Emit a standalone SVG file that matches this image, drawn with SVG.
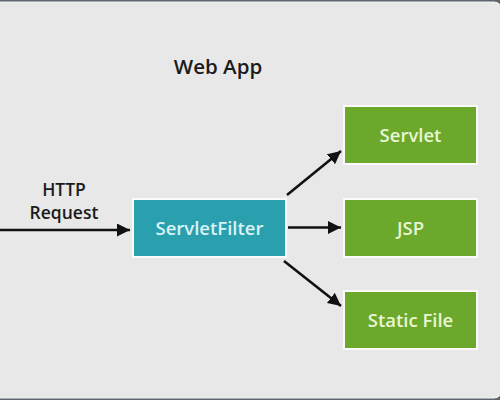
<svg xmlns="http://www.w3.org/2000/svg" width="500" height="400" viewBox="0 0 500 400">
  <style>
    .lbl { font-family: "Open Sans", "Noto Sans", "Liberation Sans", sans-serif; fill: #1b1b1b; text-anchor: middle; font-weight: 600; }
    .box-text { font-family: "Open Sans", "Noto Sans", "Liberation Sans", sans-serif; font-size: 18.5px; font-weight: 600; text-anchor: middle; }
    .green { fill: #6ba82c; stroke: #fafafa; stroke-width: 2; }
    .teal { fill: #2a9fae; stroke: #fafafa; stroke-width: 2; }
    .conn { stroke: #111111; stroke-width: 2.6; fill: none; marker-end: url(#arrow); }
  </style>
  <defs>
    <marker id="arrow" viewBox="0 0 10 10" refX="10" refY="5" markerWidth="5" markerHeight="5" orient="auto" markerUnits="strokeWidth">
      <path d="M0,0 L10,5 L0,10 Z" fill="#111111"/>
    </marker>
  </defs>
  <rect x="0" y="0" width="500" height="400" fill="#5c6570"/>
  <rect x="-10" y="2" width="512" height="396" rx="8" fill="#e8e8e8" stroke="#f3f3f3" stroke-width="1"/>

  <text class="lbl" x="218" y="74" font-size="20.5">Web App</text>

  <g id="http-label">
    <text class="lbl" x="64" y="196" font-size="17.5">HTTP</text>
    <text class="lbl" x="64" y="219" font-size="17.5">Request</text>
  </g>

  <g id="connectors">
    <line class="conn" x1="0" y1="230" x2="130" y2="230"/>
    <line class="conn" x1="287" y1="195" x2="341" y2="151"/>
    <line class="conn" x1="288" y1="227.5" x2="341" y2="227.5"/>
    <line class="conn" x1="284" y1="261" x2="341" y2="306"/>
  </g>

  <g id="servletfilter">
    <rect class="teal" x="133" y="199" width="153" height="58"/>
    <text class="box-text" x="209.5" y="235" fill="#d9f3f6">ServletFilter</text>
  </g>
  <g id="servlet">
    <rect class="green" x="344" y="106" width="133" height="58"/>
    <text class="box-text" x="410.5" y="142" fill="#e8f6d4">Servlet</text>
  </g>
  <g id="jsp">
    <rect class="green" x="344" y="199" width="133" height="58"/>
    <text class="box-text" x="410.5" y="235" fill="#e8f6d4">JSP</text>
  </g>
  <g id="staticfile">
    <rect class="green" x="344" y="291" width="133" height="58"/>
    <text class="box-text" x="410.5" y="327" fill="#e8f6d4">Static File</text>
  </g>
</svg>
